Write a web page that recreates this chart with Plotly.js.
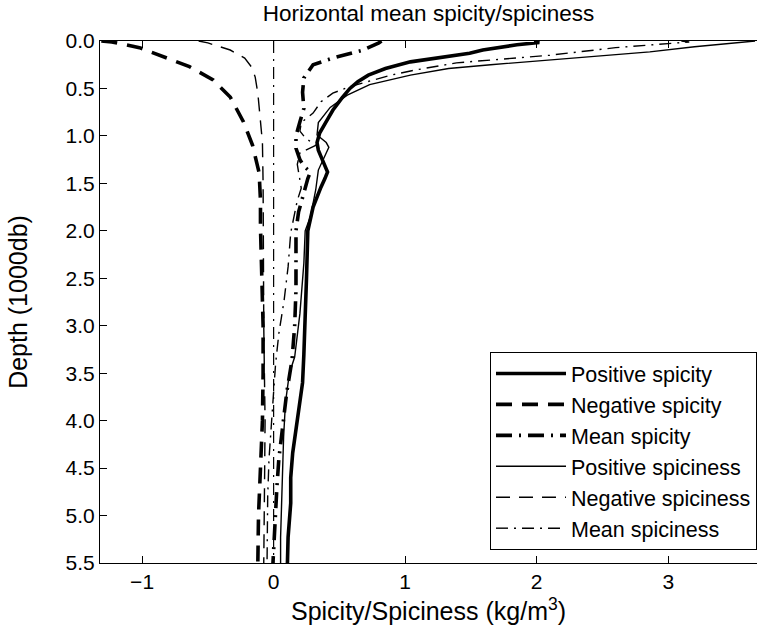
<!DOCTYPE html>
<html>
<head>
<meta charset="utf-8">
<script src="https://cdn.plot.ly/plotly-3.0.1.min.js"></script>
<style>html,body{margin:0;padding:0;background:#fff;}#chart{width:764px;height:633px;}</style>
</head>
<body>
<div id="chart"></div>
<script>
// Depth in 1000 db, values in kg/m^3
const posSpicityDepth = [0, 0.015, 0.04, 0.095, 0.13, 0.17, 0.22, 0.29, 0.36, 0.43, 0.5, 0.6, 0.73, 0.85, 0.97, 1.07, 1.15, 1.25, 1.38, 1.45, 1.54, 1.75, 1.97, 2.0, 2.5, 3.0, 3.3, 3.6, 4.0, 4.34, 4.6, 4.87, 5.23, 5.5];
const posSpicity      = [1.98, 2.02, 1.85, 1.59, 1.49, 1.3, 1.04, 0.85, 0.72, 0.64, 0.58, 0.52, 0.45, 0.40, 0.35, 0.33, 0.34, 0.37, 0.41, 0.39, 0.36, 0.30, 0.27, 0.26, 0.25, 0.24, 0.23, 0.22, 0.18, 0.145, 0.13, 0.13, 0.11, 0.105];

const negSpicityDepth = [0, 0.01, 0.07, 0.17, 0.27, 0.41, 0.59, 0.85, 1.1, 1.39, 1.68, 1.96, 2.5, 3.0, 3.5, 4.0, 4.5, 5.0, 5.5];
const negSpicity      = [-1.31, -1.23, -1.02, -0.83, -0.64, -0.46, -0.33, -0.23, -0.16, -0.11, -0.1, -0.1, -0.09, -0.08, -0.08, -0.085, -0.1, -0.115, -0.12];

const meanSpicityDepth = [0, 0.02, 0.095, 0.18, 0.25, 0.39, 0.54, 0.71, 0.85, 1.0, 1.13, 1.25, 1.32, 1.38, 1.45, 1.6, 1.8, 2.0, 2.34, 2.62, 3.0, 3.36, 3.7, 4.05, 4.4, 4.7, 5.0, 5.5];
const meanSpicity      = [0.82, 0.8, 0.68, 0.45, 0.30, 0.23, 0.22, 0.23, 0.2, 0.17, 0.17, 0.2, 0.23, 0.28, 0.26, 0.23, 0.19, 0.17, 0.17, 0.17, 0.16, 0.14, 0.1, 0.07, 0.04, 0.025, 0.015, -0.005];

const posSpicinessDepth = [0, 0.02, 0.06, 0.115, 0.2, 0.25, 0.29, 0.36, 0.46, 0.57, 0.7, 0.86, 0.99, 1.07, 1.12, 1.25, 1.36, 1.57, 1.85, 2.0, 2.34, 2.87, 3.33, 3.5, 3.81, 4.17, 4.52, 4.87, 5.23, 5.5];
const posSpiciness      = [3.66, 3.5, 3.2, 2.86, 2.08, 1.65, 1.33, 1.04, 0.73, 0.56, 0.43, 0.34, 0.33, 0.40, 0.42, 0.38, 0.34, 0.32, 0.28, 0.24, 0.23, 0.2, 0.16, 0.12, 0.09, 0.076, 0.068, 0.06, 0.053, 0.053];

const negSpicinessDepth = [0, 0.02, 0.095, 0.18, 0.27, 0.38, 0.55, 0.81, 1.07, 1.5, 2.0, 2.5, 3.0, 3.5, 4.0, 4.5, 5.0, 5.5];
const negSpiciness      = [-0.57, -0.5, -0.33, -0.22, -0.17, -0.14, -0.12, -0.1, -0.085, -0.08, -0.08, -0.078, -0.075, -0.07, -0.065, -0.068, -0.072, -0.075];

const meanSpicinessDepth = [0, 0.01, 0.07, 0.15, 0.23, 0.31, 0.36, 0.48, 0.55, 0.64, 0.76, 0.86, 0.95, 1.02, 1.1, 1.18, 1.3, 1.45, 1.55, 1.68, 1.87, 2.02, 2.38, 2.73, 3.08, 3.4, 3.8, 4.13, 4.4, 4.8, 5.5];
const meanSpiciness      = [3.1, 3.16, 2.6, 2.1, 1.39, 1.06, 0.89, 0.58, 0.45, 0.36, 0.30, 0.21, 0.2, 0.24, 0.32, 0.2, 0.18, 0.2, 0.21, 0.18, 0.15, 0.13, 0.11, 0.08, 0.04, 0.015, -0.005, -0.02, -0.035, -0.045, -0.05];

const zeroLineDepth = [0, 5.5];
const zeroLine      = [0, 0];

const seriesNames = ["Positive spicity", "Negative spicity", "Mean spicity", "Positive spiciness", "Negative spiciness", "Mean spiciness"];
const xTickVals = [-1, 0, 1, 2, 3];
const yTickVals = [0, 0.5, 1, 1.5, 2, 2.5, 3, 3.5, 4, 4.5, 5, 5.5];

const THICK = 3.6, THIN = 1.4;
const styles = [
  {width: THICK, dash: "solid"},
  {width: THICK, dash: "16px,10px"},
  {width: THICK, dash: "16px,7px,2px,7px"},
  {width: THIN, dash: "solid"},
  {width: THIN, dash: "14px,9px"},
  {width: THIN, dash: "12px,6px,2px,6px"}
];
const xs = [posSpicity, negSpicity, meanSpicity, posSpiciness, negSpiciness, meanSpiciness];
const ys = [posSpicityDepth, negSpicityDepth, meanSpicityDepth, posSpicinessDepth, negSpicinessDepth, meanSpicinessDepth];

const traces = [{
  x: zeroLine, y: zeroLineDepth, mode: "lines", showlegend: false, hoverinfo: "skip",
  line: {color: "black", width: 1.2, dash: "12px,6px,2px,6px"}
}];
for (let i = 0; i < 6; i++) {
  traces.push({
    x: xs[i], y: ys[i], name: seriesNames[i], mode: "lines",
    line: {color: "black", width: styles[i].width, dash: styles[i].dash}
  });
}

const FONT = "Liberation Sans, Arial, Helvetica, sans-serif";
const layout = {
  width: 764, height: 633,
  margin: {l: 100, r: 7, t: 41, b: 70},
  paper_bgcolor: "white", plot_bgcolor: "white",
  font: {family: FONT, size: 21, color: "black"},
  title: {text: "Horizontal mean spicity/spiciness", x: 0.5, xref: "paper", y: 0.979, yref: "container", yanchor: "middle", font: {size: 22.5}},
  xaxis: {
    range: [-1.32, 3.675], tickvals: xTickVals, ticks: "inside", ticklen: 7, tickcolor: "black",
    showline: true, linecolor: "black", linewidth: 1, mirror: "ticks", showgrid: false, zeroline: false,
    title: {text: "Spicity/Spiciness (kg/m<sup>3</sup>)", standoff: 10},
  },
  yaxis: {
    range: [5.5, 0], tickvals: yTickVals, tickformat: ".1f", ticks: "inside", ticklen: 7, tickcolor: "black",
    showline: true, linecolor: "black", linewidth: 1, mirror: false, showgrid: false, zeroline: false,
    title: {text: "Depth (1000db)", standoff: 30},
  },
  legend: {
    x: 1, xanchor: "right", y: 0.025, yanchor: "bottom",
    bgcolor: "white", bordercolor: "black", borderwidth: 1,
    font: {size: 21.5}, itemwidth: 70, tracegroupgap: 0
  },
  showlegend: true
};

Plotly.newPlot("chart", traces, layout, {displayModeBar: false, staticPlot: true});
</script>
</body>
</html>
